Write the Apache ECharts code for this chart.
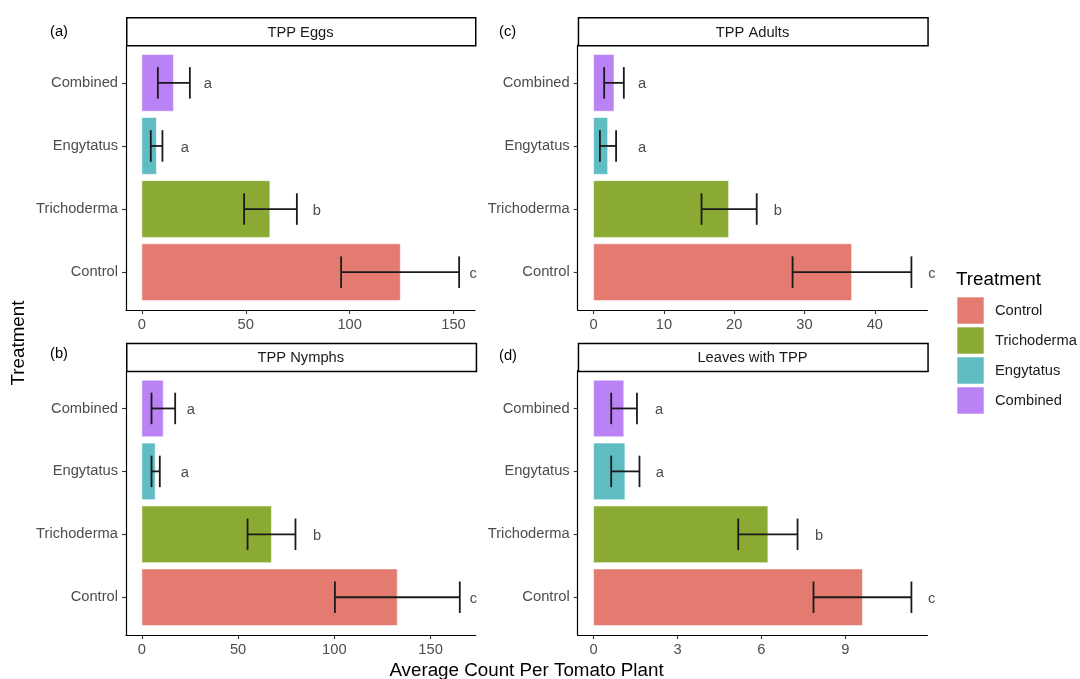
<!DOCTYPE html>
<html>
<head>
<meta charset="utf-8">
<script src="https://cdn.jsdelivr.net/npm/echarts@6/dist/echarts.min.js"></script>
<style>
html,body{margin:0;padding:0;background:#fff;}
#chart{width:1080px;height:679px;}
</style>
</head>
<body>
<div id="chart"></div>
<script>
// ---- Data ----
const categories = ['Control', 'Trichoderma', 'Engytatus', 'Combined'];
const letters = ['c', 'b', 'a', 'a'];

const eggsMean = [124.4, 61.6, 7.0, 15.2];
const eggsLow = [95.9, 49.2, 4.3, 7.7];
const eggsHigh = [152.7, 74.6, 9.9, 23.1];
const eggsLetterX = [159.5, 84.2, 20.7, 31.8];
const eggsTicks = [0, 50, 100, 150];

const adultsMean = [36.7, 19.2, 2.0, 2.9];
const adultsLow = [28.3, 15.35, 0.9, 1.5];
const adultsHigh = [45.2, 23.2, 3.2, 4.3];
const adultsLetterX = [48.1, 26.2, 6.9, 6.9];
const adultsTicks = [0, 10, 20, 30, 40];

const nymphsMean = [132.7, 67.3, 6.9, 11.1];
const nymphsLow = [100.3, 54.9, 5.0, 5.0];
const nymphsHigh = [165.2, 79.8, 9.3, 17.3];
const nymphsLetterX = [172.3, 91.0, 22.3, 25.4];
const nymphsTicks = [0, 50, 100, 150];

const leavesMean = [9.61, 6.23, 1.12, 1.08];
const leavesLow = [7.86, 5.17, 0.63, 0.63];
const leavesHigh = [11.36, 7.29, 1.64, 1.55];
const leavesLetterX = [12.08, 8.06, 2.37, 2.34];
const leavesTicks = [0, 3, 6, 9];

const panelTitles = ['TPP Eggs', 'TPP Adults', 'TPP Nymphs', 'Leaves with TPP'];
const panelTags = ['(a)', '(c)', '(b)', '(d)'];

// ---- Styles ----
const colors = ['#E47B71', '#8AAA33', '#5EBCC2', '#BA82F5'];
const FONT = '"Liberation Sans", Arial, sans-serif';
const gridRects = [
  {left: 126, top: 45, width: 349, height: 265},
  {left: 577.7, top: 45, width: 349.6, height: 265},
  {left: 126, top: 370.7, width: 349.7, height: 264.3},
  {left: 577.7, top: 370.7, width: 349.6, height: 264.3}
];
const stripRects = [
  {x: 126, y: 17, w: 349, h: 28},
  {x: 577.7, y: 17, w: 349.6, h: 28},
  {x: 126, y: 342.7, w: 349.7, h: 28},
  {x: 577.7, y: 342.7, w: 349.6, h: 28}
];
const tagPos = [[50, 31.5], [499, 31.5], [50, 354], [499, 356]];

const panels = [
  {mean: eggsMean, low: eggsLow, high: eggsHigh, lx: eggsLetterX, ticks: eggsTicks},
  {mean: adultsMean, low: adultsLow, high: adultsHigh, lx: adultsLetterX, ticks: adultsTicks},
  {mean: nymphsMean, low: nymphsLow, high: nymphsHigh, lx: nymphsLetterX, ticks: nymphsTicks},
  {mean: leavesMean, low: leavesLow, high: leavesHigh, lx: leavesLetterX, ticks: leavesTicks}
];

const grids = [], xAxes = [], yAxes = [], series = [], graphics = [];
const ERR = '#1a1a1a', ERRW = 1.8;

panels.forEach((p, i) => {
  grids.push(Object.assign({containLabel: false}, gridRects[i]));
  const top = Math.max.apply(null, p.high);
  xAxes.push({
    type: 'value', gridIndex: i, min: -0.05 * top, max: 1.05 * top,
    axisLine: {show: true, onZero: false, lineStyle: {color: '#000', width: 1.2}},
    axisTick: {show: true, length: 4, lineStyle: {color: '#333', width: 1.1}, customValues: p.ticks},
    axisLabel: {color: '#4D4D4D', fontSize: 14.7, fontFamily: FONT, margin: 7, customValues: p.ticks},
    splitLine: {show: false}
  });
  yAxes.push({
    type: 'value', gridIndex: i, min: 0.4, max: 4.6,
    axisLine: {show: true, onZero: false, lineStyle: {color: '#000', width: 1.2}},
    axisTick: {show: true, length: 4, lineStyle: {color: '#333', width: 1.1}, customValues: [1, 2, 3, 4]},
    axisLabel: {color: '#4D4D4D', fontSize: 14.7, fontFamily: FONT, margin: 8, customValues: [1, 2, 3, 4],
      padding: [2, 0, 0, 0],
      formatter: v => categories[Math.round(v) - 1] || ''},
    splitLine: {show: false}
  });
  categories.forEach((c, k) => {
    const letter = letters[k];
    series.push({
      type: 'custom', name: c, xAxisIndex: i, yAxisIndex: i,
      itemStyle: {color: colors[k]},
      encode: {x: [1, 2, 3, 4], y: 0},
      clip: false,
      data: [[k + 1, p.mean[k], p.low[k], p.high[k], p.lx[k]]],
      renderItem: function (params, api) {
        const pos = api.value(0);
        const p0 = api.coord([0, pos]);
        const pm = api.coord([api.value(1), pos]);
        const plo = api.coord([api.value(2), pos]);
        const phi = api.coord([api.value(3), pos]);
        const pl = api.coord([api.value(4), pos]);
        const h = api.size([0, 0.9])[1];
        const cap = api.size([0, 0.5])[1];
        return {
          type: 'group',
          children: [
            {type: 'rect', shape: {x: p0[0], y: p0[1] - h / 2, width: pm[0] - p0[0], height: h},
              style: {fill: api.visual('color'), stroke: 'rgba(255,255,255,0.55)', lineWidth: 1}},
            {type: 'line', shape: {x1: plo[0], y1: plo[1], x2: phi[0], y2: phi[1]},
              style: {stroke: ERR, lineWidth: ERRW}},
            {type: 'line', shape: {x1: plo[0], y1: plo[1] - cap / 2, x2: plo[0], y2: plo[1] + cap / 2},
              style: {stroke: ERR, lineWidth: ERRW}},
            {type: 'line', shape: {x1: phi[0], y1: phi[1] - cap / 2, x2: phi[0], y2: phi[1] + cap / 2},
              style: {stroke: ERR, lineWidth: ERRW}},
            {type: 'text', x: pl[0], y: pl[1] + 1.5,
              style: {text: letter, fill: '#4D4D4D', font: '14.7px ' + FONT, align: 'center', verticalAlign: 'middle'}}
          ]
        };
      }
    });
  });
  const s = stripRects[i];
  graphics.push({type: 'rect', left: s.x, top: s.y, shape: {x: 0, y: 0, width: s.w, height: s.h},
    style: {fill: '#fff', stroke: '#000', lineWidth: 1.5}, z: 100});
  graphics.push({type: 'text', x: s.x + s.w / 2, y: s.y + s.h / 2 + 1.5, z: 101,
    style: {text: panelTitles[i], fill: '#1a1a1a', font: '14.7px ' + FONT, align: 'center', verticalAlign: 'middle'}});
  graphics.push({type: 'text', x: tagPos[i][0], y: tagPos[i][1], z: 101,
    style: {text: panelTags[i], fill: '#000', font: '14.7px ' + FONT, align: 'left', verticalAlign: 'middle'}});
});

graphics.push({type: 'text', x: 526.5, y: 671, z: 101,
  style: {text: 'Average Count Per Tomato Plant', fill: '#000', font: '18.8px ' + FONT, align: 'center', verticalAlign: 'middle'}});
graphics.push({type: 'text', x: 19, y: 343, rotation: Math.PI / 2, z: 101,
  style: {text: 'Treatment', fill: '#000', font: '18.8px ' + FONT, align: 'center', verticalAlign: 'middle'}});
graphics.push({type: 'text', x: 956, y: 279.5, z: 101,
  style: {text: 'Treatment', fill: '#000', font: '18.8px ' + FONT, align: 'left', verticalAlign: 'middle'}});

const chart = echarts.init(document.getElementById('chart'), null, {renderer: 'canvas'});
chart.setOption({
  animation: false,
  backgroundColor: '#fff',
  grid: grids,
  xAxis: xAxes,
  yAxis: yAxes,
  legend: {
    orient: 'vertical', left: 956.5, top: 296.5, padding: 0,
    itemWidth: 27, itemHeight: 27, itemGap: 2, icon: 'rect',
    data: categories,
    itemStyle: {borderColor: 'rgba(255,255,255,0.6)', borderWidth: 1},
    textStyle: {color: '#1a1a1a', fontSize: 14.7, fontFamily: FONT, padding: [0, 0, 0, 6]},
    selectedMode: false
  },
  graphic: graphics,
  series: series
});
</script>
</body>
</html>
